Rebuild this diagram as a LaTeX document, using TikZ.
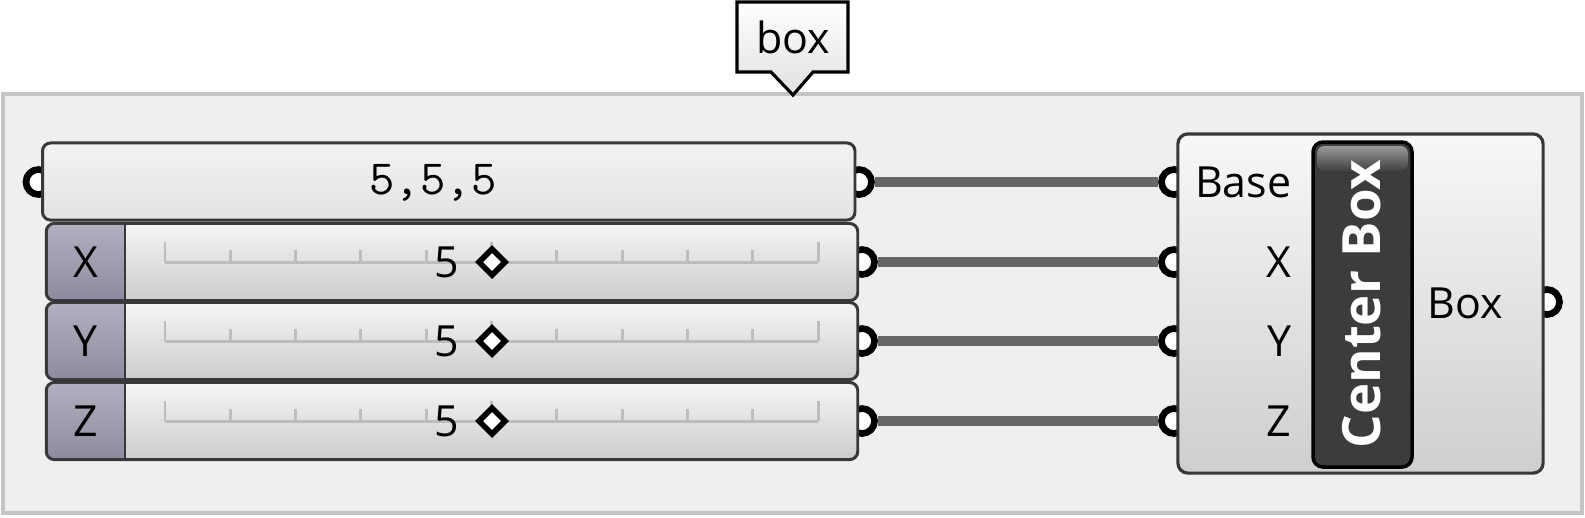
\documentclass[tikz,border=0pt]{standalone}
\usepackage{fontspec}
\setmainfont{Open Sans}
\definecolor{grpfill}{HTML}{EFEFEF}
\definecolor{grpline}{HTML}{C4C4C4}
\definecolor{wiregray}{HTML}{666666}
\definecolor{edge}{HTML}{383838}
\definecolor{tabtop}{HTML}{B2B0C0}
\definecolor{tabbot}{HTML}{8C8A9C}
\definecolor{trackgray}{HTML}{BDBDBD}
\definecolor{barfill}{HTML}{3C3C3C}
\tikzset{
  txt/.style={font=\fontsize{12.2}{15}\selectfont, inner sep=0pt},
  wire/.style={draw=wiregray, line width=2.8pt},
  grip/.style={circle, draw=black, fill=white, line width=1.9pt, minimum size=0.25cm, inner sep=0pt},
  panelbox/.style={draw=edge, line width=0.85pt, rounded corners=0.08cm, top color=black!5, bottom color=black!11,
    minimum width=8.12cm, minimum height=0.77cm, inner sep=0pt},
  slidebody/.style={draw=edge, line width=0.85pt, rounded corners=0.08cm, top color=black!4, bottom color=black!20,
    minimum width=8.11cm, minimum height=0.77cm, inner sep=0pt},
  track/.style={draw=trackgray, line width=0.85pt},
  knob/.style={draw=black, fill=white, line width=1.6pt},
  comp/.style={draw=edge, line width=0.9pt, rounded corners=0.1cm, top color=black!3, bottom color=black!19,
    minimum width=3.65cm, minimum height=3.39cm, inner sep=0pt},
}
\begin{document}
\begin{tikzpicture}[x=0.01cm,y=-0.01cm]
\useasboundingbox (0,0) rectangle (1585,517);
% group and its label
\draw[grpline, line width=0.9pt, fill=grpfill] (3,94) rectangle (1582,513);
\draw[line width=0.9pt, top color=white, bottom color=black!12] (737,2) -- (848,2) -- (848,72) -- (813,72) -- (793,95) -- (771,72) -- (737,72) -- cycle;
\node[txt] (grp) at (793,37) {box};
% grips
\node[grip] (pin) at (38.5,182) {};
\node[grip] (pout) at (859,182) {};
\foreach \n/\y in {X/262,Y/341,Z/421} \node[grip] (s\n) at (862,\y) {};
\foreach \n/\y in {Base/182,X/262,Y/341,Z/421} \node[grip] (c\n) at (1174,\y) {};
\node[grip] (cout) at (1547,302) {};
% wires
\draw[wire] (pout) -- (cBase);
\foreach \n in {X,Y,Z} \draw[wire] (s\n) -- (c\n);
% point panel
\node[panelbox] (pnl) at (448.75,181.5) {};
\node[inner sep=0pt, font=\ttfamily\fontsize{14}{16}\selectfont] (pval) at (433,183) {5,5,5};
% number sliders
\foreach \n/\y in {X/262,Y/341,Z/421}{
  \node[slidebody] (b\n) at (452,\y) {};
  \begin{scope}
    \clip[rounded corners=0.07cm] (47.8,\y-37.2) rectangle (856,\y+37.2);
    \fill[top color=tabtop, bottom color=tabbot] (46,\y-39) rectangle (125,\y+39);
  \end{scope}
  \draw[edge, line width=0.85pt] (125,\y-38.5) -- (125,\y+38.5);
  \node[txt] (l\n) at (86,\y) {\n};
  \draw[track] (165,\y) -- (818,\y);
  \foreach \i in {1,2,3,4,6,7,8,9} \draw[track] (165+65.3*\i,\y) -- ++(0,-12);
  \foreach \i in {0,5,10} \draw[track] (165+65.3*\i,\y) -- ++(0,-20);
  \node[txt] (v\n) at (447,\y) {5};
  \draw[knob] (492,\y-13) -- (505,\y) -- (492,\y+13) -- (479,\y) -- cycle;
}
% center box component
\node[comp] (cmp) at (1360.5,303.5) {};
\draw[black, line width=1pt, fill=barfill, rounded corners=0.1cm] (1313,142) rectangle (1412,467);
\fill[top color=black!40, bottom color=barfill, rounded corners=0.07cm] (1317,146) rectangle (1408,172);
\node[rotate=90, text=white, inner sep=0pt, font=\bfseries\fontsize{15}{18}\selectfont] (cname) at (1362,304) {Center Box};
\foreach \n/\y in {Base/182,X/262,Y/341,Z/421} \node[txt, anchor=east] (i\n) at (1292,\y) {\n};
\node[txt] (oBox) at (1465,303) {Box};
\end{tikzpicture}
\end{document}
